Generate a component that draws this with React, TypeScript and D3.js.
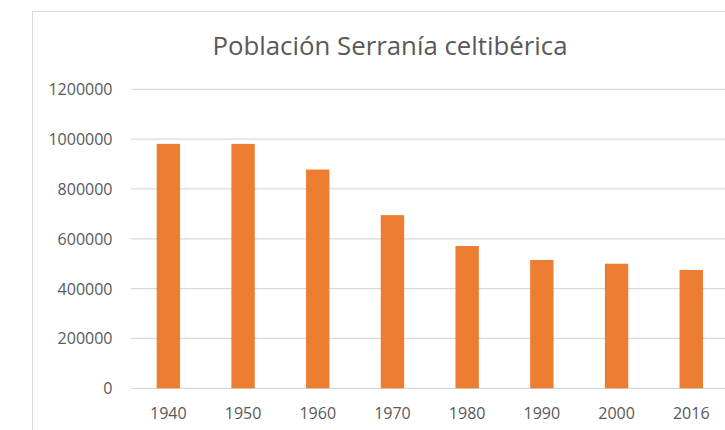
import React from 'react'
import * as d3 from 'd3'

const years = ['1940', '1950', '1960', '1970', '1980', '1990', '2000', '2016']
const population = [981000, 981000, 878000, 695000, 571000, 515000, 500000, 475000]
const yTicks = [0, 200000, 400000, 600000, 800000, 1000000, 1200000]

const title = 'Población Serranía celtibérica'
const font = "'Open Sans', 'Noto Sans', sans-serif"

function App() {
  const svgWidth = 725
  const svgHeight = 430
  const left = 131
  const step = 74.7

  const x = d3
    .scaleBand()
    .domain(years)
    .range([left, left + step * years.length])
    .paddingInner(0.687)
    .paddingOuter(0.687 / 2)
  const y = d3.scaleLinear().domain([0, 1200000]).range([388.3, 89.3])

  return (
    <svg
      width={svgWidth}
      height={svgHeight}
      style={{ position: 'absolute', left: 0, top: 0, background: '#fff' }}
    >
      {/* chart frame */}
      <rect x={32.5} y={11.5} width={760} height={460} fill="#fff" stroke="#d9d9d9" />
      <text
        x={390}
        y={44.5}
        textAnchor="middle"
        dominantBaseline="central"
        fontFamily={font}
        fontSize={25.8}
        fill="#595959"
      >
        {title}
      </text>
      {/* gridlines + y labels */}
      {yTicks.map(t => (
        <g key={t}>
          <line x1={left} x2={svgWidth} y1={y(t)} y2={y(t)} stroke="#d9d9d9" strokeWidth={1.3} />
          <text
            x={112.5}
            y={y(t)}
            textAnchor="end"
            dominantBaseline="central"
            fontFamily={font}
            fontSize={16}
            fill="#595959"
          >
            {t}
          </text>
        </g>
      ))}
      {/* bars */}
      {years.map((yr, i) => (
        <rect
          key={yr}
          x={x(yr)}
          y={y(population[i])}
          width={x.bandwidth()}
          height={y(0) - y(population[i])}
          fill="#ed7d31"
        />
      ))}
      {/* x labels */}
      {years.map(yr => (
        <text
          key={yr}
          x={(x(yr) as number) + x.bandwidth() / 2}
          y={412.5}
          textAnchor="middle"
          dominantBaseline="central"
          fontFamily={font}
          fontSize={16}
          fill="#595959"
        >
          {yr}
        </text>
      ))}
    </svg>
  )
}

export default App
